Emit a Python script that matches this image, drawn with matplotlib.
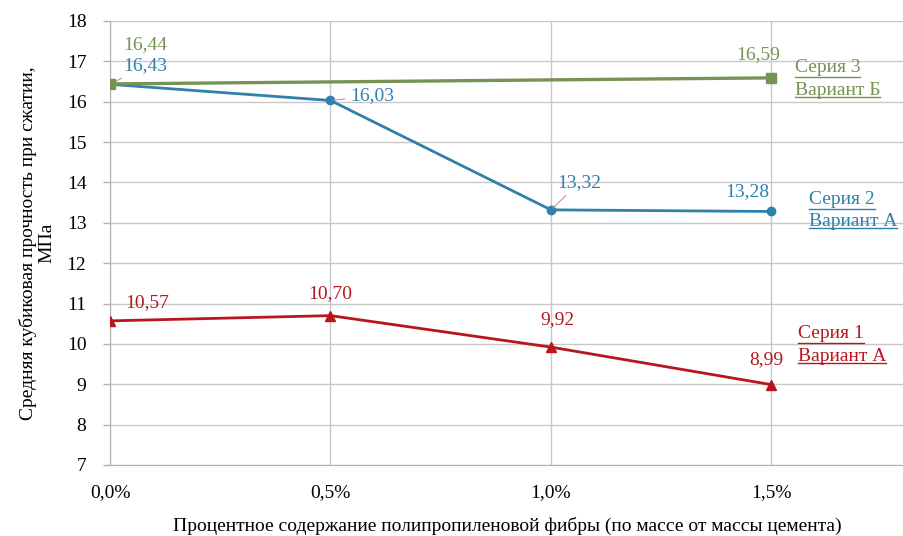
import matplotlib
matplotlib.use('Agg')
import matplotlib.pyplot as plt
from matplotlib.lines import Line2D

plt.rcParams['font.family'] = ['Liberation Serif', 'DejaVu Serif']

# Данные
fiber = [0.0, 0.5, 1.0, 1.5]
tick_labels = ['0,0%', '0,5%', '1,0%', '1,5%']
series1 = [10.57, 10.70, 9.92, 8.99]   # Серия 1, вариант А
series2 = [16.43, 16.03, 13.32, 13.28]  # Серия 2, вариант А
series3 = [16.44, None, None, 16.59]    # Серия 3, вариант Б (только 0% и 1,5%)
series_names = ['Серия 1\nВариант А', 'Серия 2\nВариант А', 'Серия 3\nВариант Б']

red = '#B8161E'
blue = '#2F80AA'
green = '#779255'
FS = 14

fig = plt.figure(figsize=(9.04, 5.36), dpi=100)
ax = fig.add_axes([0.1217, 0.1325, 0.878, 0.8284])

# линии
ax.plot(fiber, series1, '-^', color=red, lw=2.0, ms=7, zorder=3)
ax.plot(fiber, series2, '-o', color=blue, lw=2.0, ms=6, zorder=3)
x3 = [x for x, v in zip(fiber, series3) if v is not None]
y3 = [v for v in series3 if v is not None]
ax.plot(x3, y3, '-s', color=green, lw=2.4, ms=7, zorder=4)

ax.set_xlim(0, 1.8)
ax.set_ylim(7, 18)
ax.set_xticks(fiber)
ax.set_xticklabels(tick_labels)
ax.set_yticks(range(7, 19))
ax.tick_params(axis='both', labelsize=FS, colors='#B0B0B0', labelcolor='black',
               length=5, width=1)
ax.tick_params(axis='y', pad=12)
ax.tick_params(axis='x', pad=14, length=0)
ax.grid(True, color='#C8C8C8', lw=1)
ax.set_axisbelow(True)
for s in ['top', 'right']:
    ax.spines[s].set_visible(False)
for s in ['left', 'bottom']:
    ax.spines[s].set_color('#B0B0B0')

ax.set_xlabel('Процентное содержание полипропиленовой фибры (по массе от массы цемента)',
              fontsize=FS, labelpad=11)
ax.set_ylabel('Средняя кубиковая прочность при сжатии,\nМПа', fontsize=FS,
              labelpad=8, linespacing=1.1)

# подписи значений
def fmt(v):
    return f'{v:.2f}'.replace('.', ',')

lead = dict(arrowstyle='-', color='#D09090', lw=0.8)
ax.annotate(fmt(series3[0]), (0, series3[0]), xytext=(0.08, 17.41), color=green,
            fontsize=FS, ha='center', va='center')
ax.annotate(fmt(series2[0]), (0, series2[0]), xytext=(0.08, 16.89), color=blue,
            fontsize=FS, ha='center', va='center', arrowprops=lead)
ax.annotate(fmt(series2[1]), (0.5, series2[1]), xytext=(0.545, 16.14), color=blue,
            fontsize=FS, ha='left', va='center', arrowprops=lead)
ax.annotate(fmt(series2[2]), (1.0, series2[2]), xytext=(1.065, 14.0), color=blue,
            fontsize=FS, ha='center', va='center', arrowprops=lead)
ax.annotate(fmt(series2[3]), (1.5, series2[3]), xytext=(1.445, 13.77), color=blue,
            fontsize=FS, ha='center', va='center')
ax.annotate(fmt(series3[3]), (1.5, series3[3]), xytext=(1.47, 17.16), color=green,
            fontsize=FS, ha='center', va='center')
ax.annotate(fmt(series1[0]), (0, series1[0]), xytext=(0.085, 11.02), color=red,
            fontsize=FS, ha='center', va='center')
ax.annotate(fmt(series1[1]), (0.5, series1[1]), xytext=(0.5, 11.24), color=red,
            fontsize=FS, ha='center', va='center')
ax.annotate(fmt(series1[2]), (1.0, series1[2]), xytext=(1.015, 10.6), color=red,
            fontsize=FS, ha='center', va='center')
ax.annotate(fmt(series1[3]), (1.5, series1[3]), xytext=(1.488, 9.6), color=red,
            fontsize=FS, ha='center', va='center')

# названия серий (подчёркнутые)
name_texts = []
for name, col, x, y in [(series_names[2], green, 1.553, 16.56),
                        (series_names[1], blue, 1.585, 13.30),
                        (series_names[0], red, 1.56, 9.97)]:
    t = ax.text(x, y, name, color=col, fontsize=FS, ha='left', va='center',
                linespacing=1.4)
    name_texts.append(t)

fig.canvas.draw()
renderer = fig.canvas.get_renderer()
inv = fig.transFigure.inverted()
for t in name_texts:
    bb = t.get_window_extent(renderer)
    lines = t.get_text().split('\n')
    n = len(lines)
    h = bb.height / n
    for i, ln in enumerate(lines):
        tmp = ax.text(0, 0, ln, fontsize=FS)
        w = tmp.get_window_extent(renderer).width
        tmp.remove()
        ybase = bb.y1 - h * (i + 1) + 2
        p0 = inv.transform((bb.x0, ybase))
        p1 = inv.transform((bb.x0 + w, ybase))
        fig.add_artist(Line2D([p0[0], p1[0]], [p0[1], p1[1]], color=t.get_color(), lw=1))

fig.savefig('out.png', dpi=100)
